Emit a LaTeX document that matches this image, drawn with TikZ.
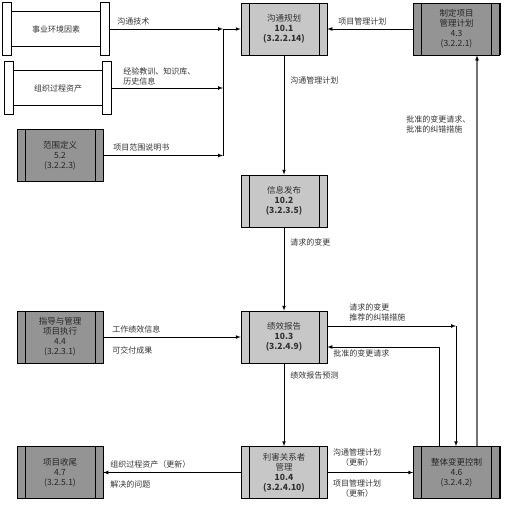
\documentclass[tikz,border=0pt]{standalone}
\usepackage{fontspec}
\setmainfont{Noto Sans CJK SC}
\usetikzlibrary{arrows}

\begin{document}
\begin{tikzpicture}[x=1pt, y=-1pt, >=latex, line width=0.7pt,
every node/.style={text=black!80, font=\fontsize{8}{10}\selectfont},
box/.style={draw, minimum width=86pt, minimum height=52pt, inner sep=0pt, align=center,
  font=\fontsize{8.5}{10}\selectfont,
  path picture={\draw ([xshift=8pt]path picture bounding box.north west) -- ([xshift=8pt]path picture bounding box.south west)
    ([xshift=-8pt]path picture bounding box.north east) -- ([xshift=-8pt]path picture bounding box.south east);}},
proc/.style={box, fill=black!22},
other/.style={box, fill=black!42, text=black!85},
store/.style={minimum width=106pt, minimum height=52pt, inner sep=0pt, align=center},
lbl/.style={anchor=west, inner sep=0pt, align=left},
feed/.style={draw=black!55, line width=1.6pt}]

\useasboundingbox (0,0) rectangle (511,506);

% inputs on the left
\node[store] (env) at (56,29) {事业环境因素};
\node[store] (opa) at (58,88) {组织过程资产};
\node[other] (scope) at (60,155.5) {范围定义\\5.2\\(3.2.2.3)};
\node[other] (exec) at (60,337) {指导与管理\\项目执行\\4.4\\(3.2.3.1)};
\node[other] (close) at (60,472.5) {项目收尾\\4.7\\(3.2.5.1)};

\foreach \n in {env,opa}{
  \draw (\n.north west) rectangle ([xshift=9pt]\n.south west)
        ([xshift=-9pt]\n.north east) rectangle (\n.south east)
        ([xshift=9pt,yshift=-9pt]\n.north west) -- ([xshift=-9pt,yshift=-9pt]\n.north east)
        ([xshift=9pt,yshift=9pt]\n.south west) -- ([xshift=-9pt,yshift=9pt]\n.south east);
}
\draw[line width=1.6pt] (env.north west) -- (env.south west);

% the four processes
\node[proc] (plan) at (284,29) {沟通规划\\\textbf{10.1}\\\textbf{(3.2.2.14)}};
\node[proc] (dist) at (284,201) {信息发布\\\textbf{10.2}\\\textbf{(3.2.3.5)}};
\node[proc] (perf) at (284,337) {绩效报告\\\textbf{10.3}\\\textbf{(3.2.4.9)}};
\node[proc] (stake) at (284,472.5) {利害关系者\\管理\\\textbf{10.4}\\\textbf{(3.2.4.10)}};

% right column
\node[other] (pmp) at (456.5,29) {制定项目\\管理计划\\4.3\\(3.2.2.1)};
\node[other] (icc) at (456.5,472.5) {整体变更控制\\4.6\\(3.2.4.2)};
\draw[line width=1.6pt] (pmp.north east) -- (pmp.south east) (icc.north east) -- (icc.south east);

% bus into 10.1
\coordinate (b1) at (223,29);
\coordinate (b2) at (223,88);
\coordinate (b3) at (223,155.5);
\draw[->] (env) -- (b1);
\draw[->] (opa) -- (b2);
\draw[->] (scope) -- (b3);
\draw (b3) -- (b1);
\draw[->] (b1) -- (plan);

\draw[->] (pmp) -- (plan);
\draw[->] (plan) -- (dist);
\draw[->] (dist) -- (perf);
\draw[->] (perf) -- (stake);
\draw[->] (exec) -- (perf);
\draw[->] (stake) -- (close);
\draw[->] (stake) -- (icc);

% change loop
\coordinate (c1) at (456,326);
\coordinate (c2) at (439,347);
\draw[->] (perf.east |- c1) -- (c1);
\draw[->] (c1) -- (c1 |- icc.north);
\draw[->] (c2 |- icc.north) -- (c2) -- (perf.east |- c2);
\coordinate (c3) at (477,0);
\draw[feed] (c3 |- icc.north) -- ([yshift=-5pt]c3 |- pmp.south);
\draw[->] ([yshift=-6pt]c3 |- pmp.south) -- (c3 |- pmp.south);

% labels
\node[lbl] (l1) at (117,21) {沟通技术};
\node[lbl] (l2) at (123,76) {经验教训、知识库、\\历史信息};
\node[lbl] (l3) at (113,147) {项目范围说明书};
\node[lbl] (l4) at (338,21) {项目管理计划};
\node[lbl] (l5) at (290,80) {沟通管理计划};
\node[lbl] (l6) at (406,124) {批准的变更请求、\\批准的纠错措施};
\node[lbl] (l7) at (290,242) {请求的变更};
\node[lbl] (l8) at (349,312) {请求的变更\\推荐的纠错措施};
\node[lbl] (l9) at (333,353) {批准的变更请求};
\node[lbl] (l10) at (112,329) {工作绩效信息};
\node[lbl] (l11) at (112,350) {可交付成果};
\node[lbl] (l12) at (290,375) {绩效报告预测};
\node[lbl] (l13) at (110,464) {组织过程资产（更新）};
\node[lbl] (l14) at (110,484) {解决的问题};
\node[inner sep=0pt, align=center] (l15) at (357,458) {沟通管理计划\\（更新）};
\node[inner sep=0pt, align=center] (l16) at (357,488.5) {项目管理计划\\（更新）};

\end{tikzpicture}
\end{document}
